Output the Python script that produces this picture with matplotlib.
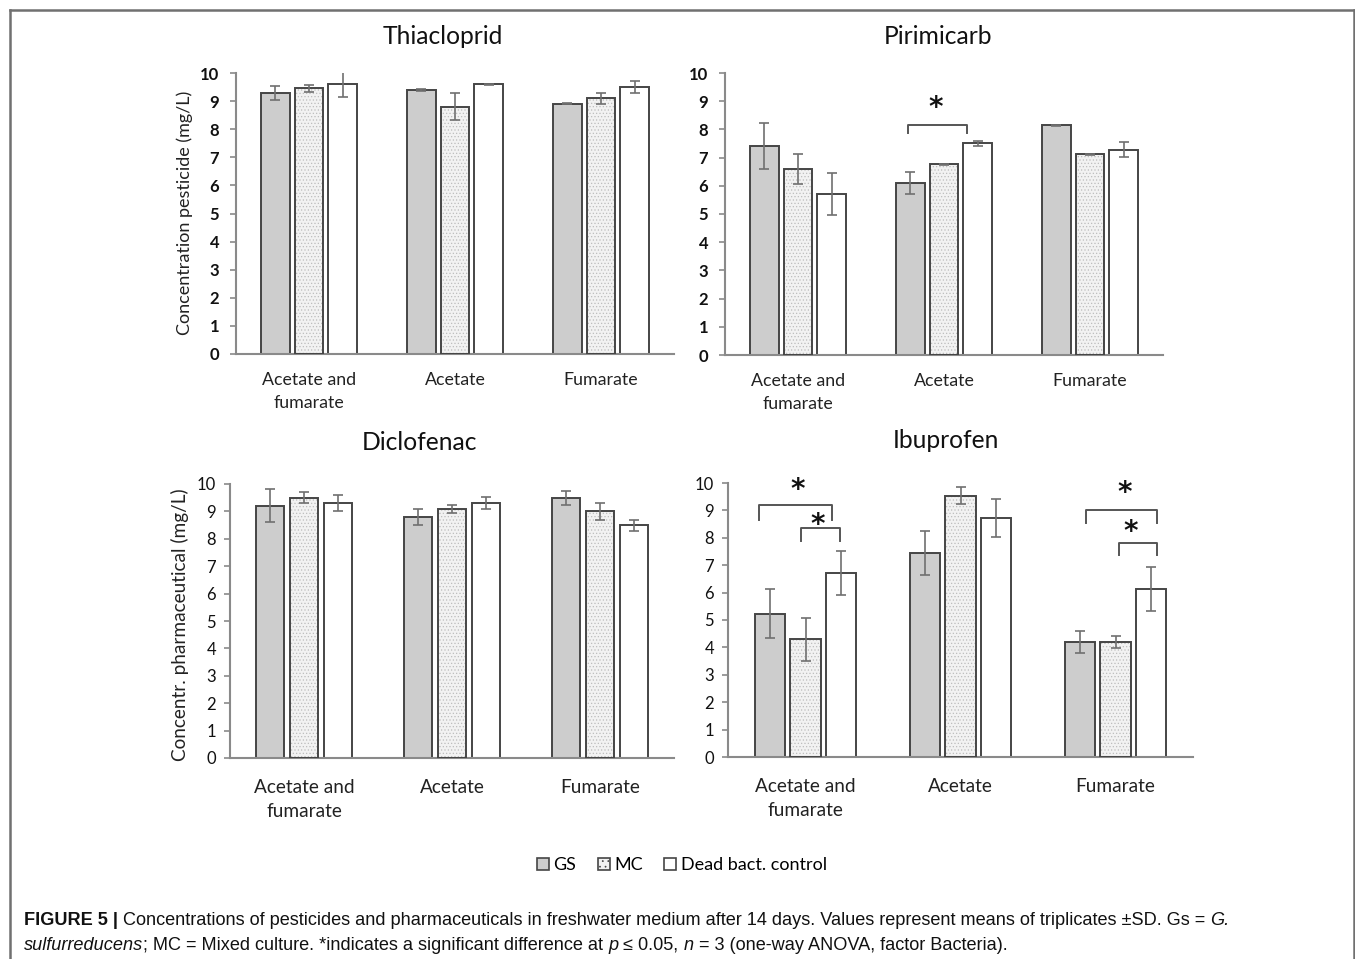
import numpy as np
import matplotlib
matplotlib.use('Agg')
import matplotlib.pyplot as plt
from matplotlib.lines import Line2D

###############################################################################
# Data: rows are GS, MC, dead bacteria control; columns are carbon sources

carbon_sources = ['Acetate and\nfumarate', 'Acetate', 'Fumarate']
series_names = ['GS', 'MC', 'Dead bact. control']

thiacloprid_mean = [[9.3, 9.4, 8.9], [9.45, 8.8, 9.1], [9.6, 9.6, 9.5]]
thiacloprid_sd = [[0.25, 0.03, 0.02], [0.13, 0.48, 0.2], [0.44, 0.02, 0.21]]

pirimicarb_mean = [[7.4, 6.1, 8.15], [6.6, 6.77, 7.12], [5.72, 7.51, 7.28]]
pirimicarb_sd = [[0.81, 0.38, 0.02], [0.54, 0.02, 0.02], [0.75, 0.09, 0.27]]

diclofenac_mean = [[9.2, 8.8, 9.5], [9.5, 9.1, 9.0], [9.3, 9.3, 8.5]]
diclofenac_sd = [[0.6, 0.3, 0.25], [0.2, 0.15, 0.3], [0.3, 0.21, 0.2]]

ibuprofen_mean = [[5.23, 7.43, 4.2], [4.29, 9.54, 4.2], [6.72, 8.72, 6.12]]
ibuprofen_sd = [[0.9, 0.8, 0.4], [0.8, 0.3, 0.22], [0.8, 0.7, 0.8]]

# significance brackets: (x start, x end, bar height, leg bottom, star x, star y)
pirimicarb_sig = [(0.75, 1.16, 8.16, 7.87, 0.94, 8.75)]
ibuprofen_sig = [(-0.30, 0.17, 9.2, 8.65, -0.05, 9.75),
                 (-0.03, 0.22, 8.36, 7.88, 0.08, 8.45),
                 (1.81, 2.27, 9.0, 8.53, 2.06, 9.65),
                 (2.02, 2.27, 7.8, 7.37, 2.10, 8.2)]

caption_1 = [('FIGURE 5 | ', 'bold', 'normal'),
             ('Concentrations of pesticides and pharmaceuticals in freshwater medium after 14 days. '
              'Values represent means of triplicates \u00b1SD. Gs = ', 'normal', 'normal'),
             ('G.', 'normal', 'italic')]
caption_2 = [('sulfurreducens', 'normal', 'italic'),
             ('; MC = Mixed culture. *indicates a significant difference at ', 'normal', 'normal'),
             ('p', 'normal', 'italic'),
             (' \u2264 0.05, ', 'normal', 'normal'),
             ('n', 'normal', 'italic'),
             (' = 3 (one-way ANOVA, factor Bacteria).', 'normal', 'normal')]

###############################################################################
# Styling

W, H = 1355, 959
FONT = 'Lato'
EDGE = '#454545'
AXIS = '#8a8a8a'
ERR = '#707070'
GS_FILL = '#cdcdcd'
MC_FILL = '#f2f2f2'
OFFSETS = [-0.23, 0.0, 0.23]
WIDTH = 0.195

plt.rcParams['hatch.linewidth'] = 0.5


def px_rect(left, right, top, bottom):
    # axes rectangle from pixel edges
    return [left / W, 1 - bottom / H, (right - left) / W, (bottom - top) / H]


def draw_bars(ax, means, sds):
    x = np.arange(len(carbon_sources))
    for k in range(3):
        xs = x + OFFSETS[k]
        if k == 0:
            ax.bar(xs, means[k], WIDTH, color=GS_FILL, edgecolor=EDGE, lw=1.4, zorder=2)
        elif k == 1:
            # dotted fill drawn first, outline on top
            ax.bar(xs, means[k], WIDTH, color=MC_FILL, edgecolor='#bdbdbd', hatch='.....', lw=0, zorder=2)
            ax.bar(xs, means[k], WIDTH, fill=False, edgecolor=EDGE, lw=1.4, zorder=3)
        else:
            ax.bar(xs, means[k], WIDTH, color='white', edgecolor=EDGE, lw=1.4, zorder=2)
        ax.errorbar(xs, means[k], yerr=sds[k], fmt='none', ecolor=ERR, elinewidth=1.2,
                    capsize=3.5, capthick=1.2, zorder=4)


def style_axes(ax, bold, label_size, pad, linespacing):
    ax.set_xlim(-0.5, 2.5)
    ax.set_ylim(0, 10)
    ax.set_yticks(range(11))
    ax.set_xticks(range(3))
    ax.set_xticklabels(carbon_sources, fontfamily=FONT, fontsize=label_size,
                       linespacing=linespacing, color='#222222')
    for lab in ax.get_yticklabels():
        lab.set_fontfamily(FONT)
        lab.set_fontsize(12)
        lab.set_fontweight('bold' if bold else 'normal')
        lab.set_color('#111111')
    ax.tick_params(axis='x', length=0, pad=pad)
    ax.tick_params(axis='y', length=4, width=1.2, color=AXIS, pad=8 if bold else 6, direction='out')
    for s in ['top', 'right']:
        ax.spines[s].set_visible(False)
    for s in ['left', 'bottom']:
        ax.spines[s].set_color(AXIS)
        ax.spines[s].set_linewidth(1.5)
    ax.set_facecolor('none')


def draw_sig(ax, brackets):
    for x0, x1, y, leg, sx, sy in brackets:
        ax.plot([x0, x0, x1, x1], [leg, y, y, leg], color='#555555', lw=1.4, zorder=5)
        ax.text(sx, sy, '*', ha='center', va='center', fontsize=20, fontweight='bold',
                fontfamily='DejaVu Sans', color='#111111')


###############################################################################

fig = plt.figure(figsize=(W / 100, H / 100), dpi=100)

ax1 = fig.add_axes(px_rect(236, 674, 73, 354))
ax2 = fig.add_axes(px_rect(725, 1163, 73, 355))
ax3 = fig.add_axes(px_rect(230, 674, 484, 758))
ax4 = fig.add_axes(px_rect(728, 1193, 483, 757))

draw_bars(ax1, thiacloprid_mean, thiacloprid_sd)
draw_bars(ax2, pirimicarb_mean, pirimicarb_sd)
draw_bars(ax3, diclofenac_mean, diclofenac_sd)
draw_bars(ax4, ibuprofen_mean, ibuprofen_sd)

style_axes(ax1, True, 12.8, 13, 1.5)
style_axes(ax2, True, 12.8, 13, 1.5)
style_axes(ax3, False, 13.7, 15, 1.5)
style_axes(ax4, False, 13.7, 15, 1.5)

draw_sig(ax2, pirimicarb_sig)
draw_sig(ax4, ibuprofen_sig)

# panel titles
title_kw = dict(fontfamily=FONT, fontsize=17.7, ha='center', va='center', color='#111111')
fig.text(443 / W, 1 - 37 / H, 'Thiacloprid', **title_kw)
fig.text(938 / W, 1 - 37 / H, 'Pirimicarb', **title_kw)
fig.text(420 / W, 1 - 443 / H, 'Diclofenac', **title_kw)
fig.text(946 / W, 1 - 441 / H, 'Ibuprofen', **title_kw)

# y axis labels
fig.text(185 / W, 1 - 213 / H, 'Concentration pesticide (mg/L)', rotation=90,
         fontfamily=FONT, fontsize=13, ha='center', va='center', color='#222222')
fig.text(180 / W, 1 - 625 / H, 'Concentr. pharmaceutical (mg/L)', rotation=90,
         fontfamily=FONT, fontsize=13.7, ha='center', va='center', color='#222222')

# shared legend
handles = [plt.Rectangle((0, 0), 1, 1, facecolor=GS_FILL, edgecolor=EDGE, lw=1.2),
           plt.Rectangle((0, 0), 1, 1, facecolor=MC_FILL, edgecolor=EDGE, lw=1.2, hatch='...'),
           plt.Rectangle((0, 0), 1, 1, facecolor='white', edgecolor=EDGE, lw=1.2)]
fig.legend(handles, series_names, loc='center', bbox_to_anchor=(682 / W, 1 - 865 / H),
           ncol=3, frameon=False, handlelength=0.65, handleheight=0.65, handletextpad=0.25,
           columnspacing=1.2, prop={'family': FONT, 'size': 13})

# border around the figure panel
border = dict(color='#707070', lw=1.8, transform=fig.transFigure)
fig.add_artist(Line2D([9.5 / W, 9.5 / W], [0, 1 - 9.5 / H], **border))
fig.add_artist(Line2D([9.5 / W, 1354 / W], [1 - 9.5 / H, 1 - 9.5 / H], **border))
fig.add_artist(Line2D([1354 / W, 1354 / W], [0, 1 - 9.5 / H], **border))

# caption, pieces placed after each other using the renderer's text extents
fig.canvas.draw()
renderer = fig.canvas.get_renderer()
for parts, ybase in [(caption_1, 925), (caption_2, 950)]:
    x = 24 / W
    for txt, weight, style in parts:
        t = fig.text(x, 1 - ybase / H, txt, fontsize=13.1, fontfamily='Liberation Sans',
                     fontweight=weight, fontstyle=style, va='baseline', color='#111111')
        bb = t.get_window_extent(renderer)
        x = bb.x1 / W

fig.savefig('out.png', dpi=100, facecolor='white')
